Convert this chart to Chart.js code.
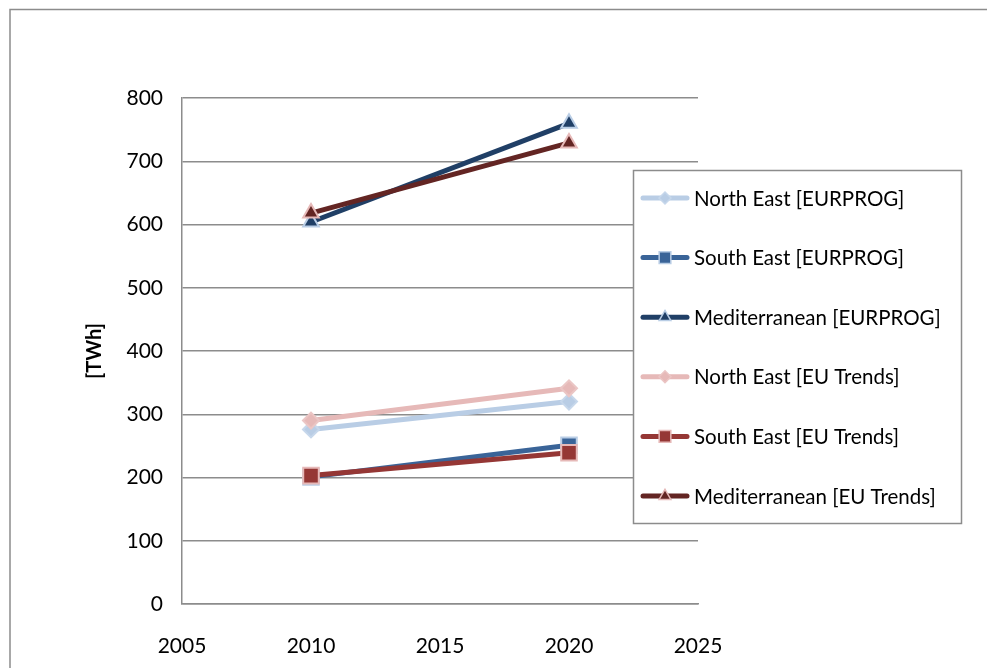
<!DOCTYPE html>
<html>
<head>
<meta charset="utf-8">
<script src="https://cdn.jsdelivr.net/npm/chart.js@4.4.1/dist/chart.umd.min.js"></script>
<style>
  body { margin: 0; background: #fff; }
  canvas { display: block; }
</style>
</head>
<body>
<canvas id="demandChart" width="987" height="668"></canvas>
<script>
var years = [2010, 2020]
var yTicks = [0, 100, 200, 300, 400, 500, 600, 700, 800]
var xTicks = [2005, 2010, 2015, 2020, 2025]

var seriesNames = [
    'North East [EURPROG]',
    'South East [EURPROG]',
    'Mediterranean [EURPROG]',
    'North East [EU Trends]',
    'South East [EU Trends]',
    'Mediterranean [EU Trends]'
]
var northEastEurprog = [276, 320]
var southEastEurprog = [201, 251]
var medEurprog = [604, 760]
var northEastEuTrends = [290, 341]
var southEastEuTrends = [203, 239]
var medEuTrends = [618, 729]

var FONT = 'Lato, "Open Sans", sans-serif'

function toPoints(values) {
    return values.map(function (v, i) { return { x: years[i], y: v } })
}

function makeSet(name, values, color, edge, style, radius, order) {
    return {
        label: name,
        data: toPoints(values),
        borderColor: color,
        backgroundColor: color,
        borderWidth: 5,
        pointStyle: style,
        pointRadius: radius,
        pointBackgroundColor: color,
        pointBorderColor: edge,
        pointBorderWidth: 2,
        tension: 0,
        order: order
    }
}

var datasets = [
    makeSet(seriesNames[0], northEastEurprog, '#B9CDE5', '#C6D7EB', 'rectRot', 8, 1),
    makeSet(seriesNames[1], southEastEurprog, '#3A6498', '#B9CDE5', 'rect', 11, 1),
    makeSet(seriesNames[2], medEurprog, '#203F66', '#B9CDE5', 'triangle', 9, 1),
    makeSet(seriesNames[3], northEastEuTrends, '#E6B9B8', '#EBC6C5', 'rectRot', 8, 0),
    makeSet(seriesNames[4], southEastEuTrends, '#953735', '#E6B9B8', 'rect', 11, 0),
    makeSet(seriesNames[5], medEuTrends, '#632523', '#E6B9B8', 'triangle', 9, 0)
]

// outer frame around the whole chart
var framePlugin = {
    id: 'frame',
    beforeDraw: function (chart) {
        var ctx = chart.ctx
        ctx.save()
        ctx.fillStyle = '#fff'
        ctx.fillRect(0, 0, chart.width, chart.height)
        ctx.strokeStyle = '#8c8c8c'
        ctx.lineWidth = 1.5
        ctx.strokeRect(10, 9.5, 1000, 700)
        ctx.restore()
    }
}

// boxed legend with line + marker samples, drawn over the plot
var boxLegend = {
    id: 'boxLegend',
    afterDraw: function (chart) {
        var ctx = chart.ctx
        var left = 633, top = 170, w = 328, h = 353
        ctx.save()
        ctx.fillStyle = '#fff'
        ctx.fillRect(left, top, w, h)
        ctx.strokeStyle = '#8c8c8c'
        ctx.lineWidth = 1.5
        ctx.strokeRect(left + 0.5, top + 0.5, w, h)
        ctx.font = '20.5px ' + FONT
        ctx.textBaseline = 'middle'
        chart.data.datasets.forEach(function (ds, i) {
            var y = 198 + i * 59.6
            ctx.strokeStyle = ds.borderColor
            ctx.lineWidth = 5
            ctx.lineCap = 'round'
            ctx.beginPath()
            ctx.moveTo(643, y)
            ctx.lineTo(687, y)
            ctx.stroke()
            ctx.fillStyle = ds.pointBackgroundColor
            ctx.strokeStyle = ds.pointBorderColor
            ctx.lineWidth = 1.5
            Chart.helpers.drawPoint(ctx, {
                pointStyle: ds.pointStyle,
                radius: ds.pointRadius * 0.75,
                rotation: 0,
                borderWidth: 1.5
            }, 665, y)
            ctx.fillStyle = '#000'
            ctx.fillText(ds.label, 694, y + 1)
        })
        ctx.restore()
    }
}

new Chart(document.getElementById('demandChart').getContext('2d'), {
    type: 'line',
    data: { datasets: datasets },
    plugins: [framePlugin, boxLegend],
    options: {
        responsive: false,
        animation: false,
        layout: { padding: { left: 83, top: 98, right: 289, bottom: 0 } },
        plugins: {
            legend: { display: false },
            tooltip: { enabled: false }
        },
        scales: {
            x: {
                type: 'linear',
                min: 2005,
                max: 2025,
                afterBuildTicks: function (scale) {
                    scale.ticks = xTicks.map(function (v) { return { value: v } })
                },
                afterFit: function (scale) { scale.height = 64 },
                grid: { display: false, drawTicks: false },
                border: { display: true, color: '#8c8c8c', width: 1.5 },
                ticks: {
                    padding: 30,
                    color: '#000',
                    font: { family: FONT, size: 21 },
                    callback: function (v) { return String(v) }
                }
            },
            y: {
                min: 0,
                max: 800,
                afterBuildTicks: function (scale) {
                    scale.ticks = yTicks.map(function (v) { return { value: v } })
                },
                afterFit: function (scale) { scale.width = 99 },
                grid: { color: '#8c8c8c', lineWidth: 1.5, drawTicks: false },
                border: { display: true, color: '#8c8c8c', width: 1.5 },
                ticks: {
                    padding: 19,
                    color: '#000',
                    font: { family: FONT, size: 21 }
                },
                title: {
                    display: true,
                    text: '[TWh]',
                    color: '#000',
                    padding: 0,
                    font: { family: FONT, size: 20, weight: 'bold' }
                }
            }
        }
    }
})
</script>
</body>
</html>
